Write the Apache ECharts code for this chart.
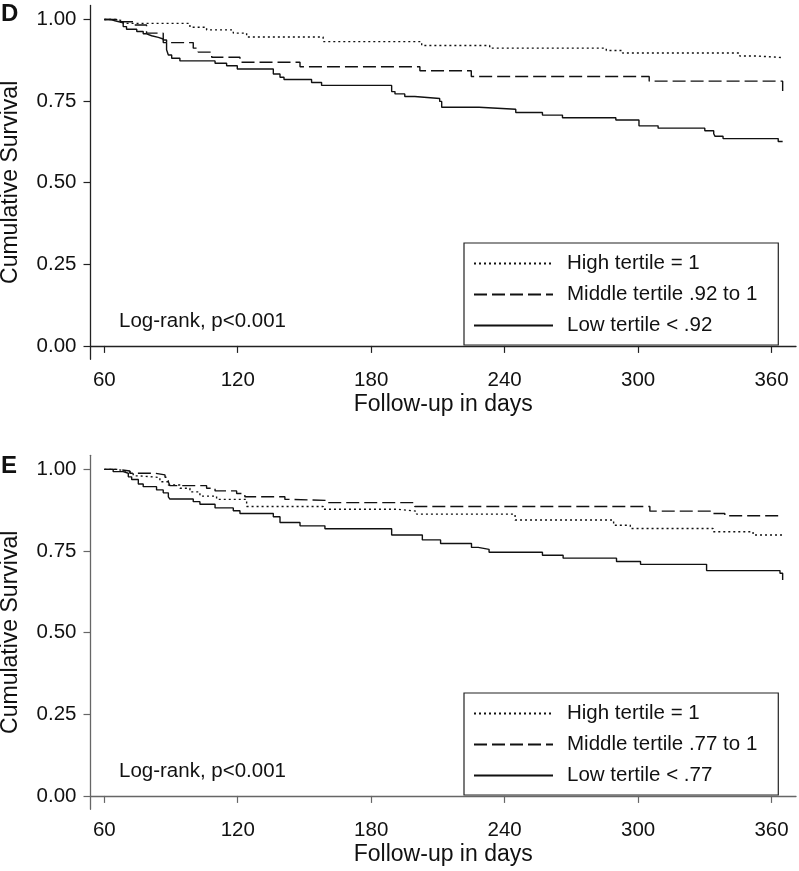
<!DOCTYPE html>
<html><head><meta charset="utf-8">
<script src="https://cdn.jsdelivr.net/npm/echarts@6/dist/echarts.min.js"></script>
<style>html,body{margin:0;padding:0;background:#fff}#c{width:799px;height:871px}</style>
</head><body><div id="c"></div>
<script>
// ---- tick labels ----
const xTicks = [60, 120, 180, 240, 300, 360];
const yTicks = [0, 0.25, 0.5, 0.75, 1];

// ---- series names ----
const dNames = ['High tertile = 1', 'Middle tertile .92 to 1', 'Low tertile < .92'];
const eNames = ['High tertile = 1', 'Middle tertile .77 to 1', 'Low tertile < .77'];

// ---- Panel D data (days, survival) ----
const dHighDays = [60, 64.8, 68.5, 98.5, 106, 118, 124, 158.4, 202.7, 233.3, 285.7, 293, 345.7, 353.3, 365.5];
const dHighSurv = [1.0, 0.996, 0.988, 0.976, 0.968, 0.958, 0.946, 0.932, 0.920, 0.912, 0.905, 0.897, 0.888, 0.883, 0.883];
const dMidDays = [60, 65.6, 73, 79, 86.5, 88, 100, 102.2, 108.3, 121, 148, 201.9, 225, 305, 365];
const dMidSurv = [1.0, 0.993, 0.983, 0.958, 0.937, 0.929, 0.912, 0.900, 0.884, 0.869, 0.855, 0.843, 0.825, 0.811, 0.781];
const dLowDays = [60, 62.6, 64.8, 68.5, 70, 74.6, 77.5, 79, 81.3, 84.3, 86.5, 88, 88.8, 90.3, 94, 109.8, 115, 119.8, 136, 139, 140.8, 153.2, 157.7, 189.2, 190.7, 195.1, 199.6, 210.8, 211.7, 228.5, 245, 257, 266, 290, 300.4, 309, 330, 334, 334.6, 338.2, 363, 365];
const dLowSurv = [1.0, 0.996, 0.990, 0.978, 0.970, 0.963, 0.956, 0.950, 0.945, 0.940, 0.929, 0.907, 0.891, 0.881, 0.873, 0.866, 0.858, 0.848, 0.833, 0.823, 0.816, 0.807, 0.798, 0.779, 0.772, 0.764, 0.758, 0.749, 0.731, 0.725, 0.715, 0.707, 0.699, 0.692, 0.674, 0.667, 0.659, 0.650, 0.642, 0.635, 0.626, 0.626];

// ---- Panel E data (days, survival) ----
const eHighDays = [60, 65.6, 69.5, 73, 76, 85, 88.8, 94, 98.5, 103, 110.5, 124, 158.4, 191.4, 200.4, 244.7, 289, 296.5, 333.7, 351.7, 365];
const eHighSurv = [1.0, 0.995, 0.990, 0.980, 0.975, 0.962, 0.952, 0.942, 0.931, 0.918, 0.908, 0.886, 0.878, 0.872, 0.863, 0.845, 0.829, 0.819, 0.809, 0.799, 0.792];
const eMidDays = [60, 65.6, 71.5, 82.8, 87.3, 88.8, 89.5, 106, 109.8, 119.5, 123.2, 141.2, 143.5, 160, 199.6, 305.3, 333.7, 339, 365];
const eMidSurv = [1.0, 0.995, 0.988, 0.983, 0.976, 0.962, 0.950, 0.942, 0.934, 0.926, 0.916, 0.908, 0.905, 0.898, 0.886, 0.872, 0.865, 0.858, 0.858];
const eLowDays = [60, 64, 68.5, 70.8, 72.3, 75.3, 77.5, 83.5, 86.5, 88.8, 89.5, 100, 103, 109.8, 118, 121, 136, 139, 148, 159.2, 189.2, 203, 211.2, 225.1, 228.1, 233, 257, 266.3, 290.3, 301.1, 330.8, 363.8, 365];
const eLowSurv = [1.0, 0.993, 0.988, 0.977, 0.969, 0.955, 0.947, 0.937, 0.928, 0.916, 0.909, 0.901, 0.893, 0.882, 0.873, 0.865, 0.855, 0.837, 0.827, 0.818, 0.799, 0.784, 0.773, 0.761, 0.755, 0.746, 0.737, 0.728, 0.718, 0.709, 0.690, 0.682, 0.661];

const FONT = "'Liberation Sans', Arial, Helvetica, sans-serif";
const pair = (xs, ys) => xs.map((x, i) => [x, ys[i]]);
const styles = [
  { type: [2, 3], width: 1.4 },
  { type: [13, 5], width: 1.4 },
  { type: 'solid', width: 1.4 }
];

function mkX(idx, color) {
  return {
    type: 'value', gridIndex: idx, min: 53.8, max: 371,
    name: 'Follow-up in days', nameLocation: 'middle', nameGap: 34,
    nameTextStyle: { fontFamily: FONT, fontSize: 23, color: '#111' },
    axisLine: { show: true, lineStyle: { color: color, width: 1.3 } },
    axisTick: { show: true, length: 7, customValues: xTicks, lineStyle: { color: color, width: 1.2 } },
    axisLabel: { customValues: xTicks, margin: 11, fontFamily: FONT, fontSize: 20.5, color: '#111' },
    splitLine: { show: false }
  };
}
function mkY(idx, color) {
  return {
    type: 'value', gridIndex: idx, min: -0.041, max: 1.043,
    name: 'Cumulative Survival', nameLocation: 'middle', nameGap: 68, nameRotate: 90,
    nameTextStyle: { fontFamily: FONT, fontSize: 23, color: '#111' },
    axisLine: { show: true, lineStyle: { color: color, width: 1.3 } },
    axisTick: { show: true, length: 7, customValues: yTicks, lineStyle: { color: color, width: 1.2 } },
    axisLabel: { customValues: yTicks, margin: 14, fontFamily: FONT, fontSize: 20.5, color: '#111',
      formatter: v => v.toFixed(2) },
    splitLine: { show: false }
  };
}
function mkSeries(names, datas, idx) {
  return names.map((n, i) => ({
    name: n, type: 'line', step: 'end', xAxisIndex: idx, yAxisIndex: idx,
    data: datas[i], showSymbol: false, symbol: 'none', silent: true, animation: false,
    lineStyle: Object.assign({ color: '#111' }, styles[i]),
    itemStyle: { color: '#111' }
  }));
}
function mkLegend(names, top) {
  return {
    data: names, orient: 'vertical', left: 464, top: top,
    itemWidth: 79, itemHeight: 20, itemGap: 10,
    padding: [10, 21, 9, 9],
    borderColor: '#222', borderWidth: 1.2,
    selectedMode: false,
    itemStyle: { opacity: 0, color: 'rgba(0,0,0,0)', borderWidth: 0 },
    textStyle: { fontFamily: FONT, fontSize: 20.5, color: '#111', padding: [0, 0, 0, 9] }
  };
}

const chart = echarts.init(document.getElementById('c'), null, { renderer: 'canvas' });
chart.setOption({
  backgroundColor: '#fff',
  animation: false,
  grid: [
    { left: 90.5, top: 5.4, width: 705.5, height: 353.9, containLabel: false, outerBoundsMode: 'none' },
    { left: 90.5, top: 455.3, width: 705.5, height: 354, containLabel: false, outerBoundsMode: 'none' }
  ],
  xAxis: [mkX(0, '#222'), mkX(1, '#666')],
  yAxis: [mkY(0, '#222'), mkY(1, '#666')],
  legend: [mkLegend(dNames, 243), mkLegend(eNames, 693)],
  series: [].concat(
    mkSeries(dNames, [pair(dHighDays, dHighSurv), pair(dMidDays, dMidSurv), pair(dLowDays, dLowSurv)], 0),
    mkSeries(eNames, [pair(eHighDays, eHighSurv), pair(eMidDays, eMidSurv), pair(eLowDays, eLowSurv)], 1)
  ),
  graphic: [
    { type: 'text', x: 1, y: 14.5, style: { text: 'D', font: 'bold 24px ' + FONT, fill: '#111', verticalAlign: 'middle' } },
    { type: 'text', x: 1, y: 466.5, style: { text: 'E', font: 'bold 24px ' + FONT, fill: '#111', verticalAlign: 'middle' } },
    { type: 'text', x: 119, y: 321, style: { text: 'Log-rank, p<0.001', font: '20.5px ' + FONT, fill: '#111', verticalAlign: 'middle' } },
    { type: 'text', x: 119, y: 771, style: { text: 'Log-rank, p<0.001', font: '20.5px ' + FONT, fill: '#111', verticalAlign: 'middle' } }
  ]
});
</script></body></html>
